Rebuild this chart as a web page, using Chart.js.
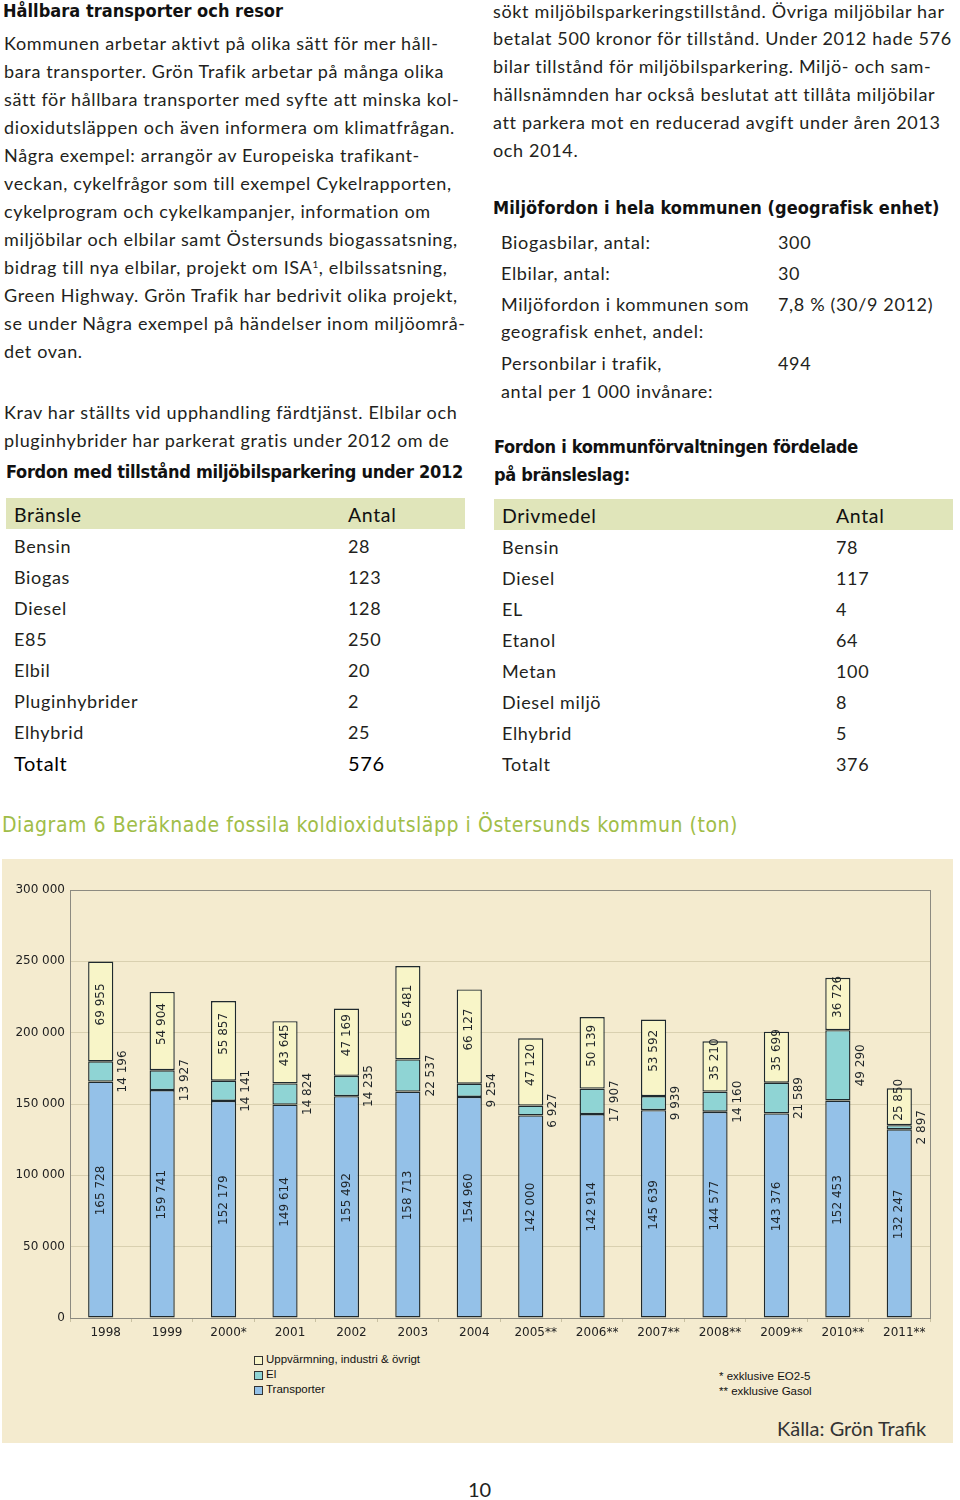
<!DOCTYPE html>
<html lang="sv">
<head>
<meta charset="utf-8">
<title>Hållbara transporter och resor</title>
<script src="https://cdn.jsdelivr.net/npm/chart.js@4.4.1/dist/chart.umd.min.js"></script>
<style>
html,body{margin:0;padding:0;background:#fff;}
body{width:960px;height:1500px;position:relative;overflow:hidden;color:#231f20;font-family:Lato,"Open Sans",sans-serif;}
.t{position:absolute;white-space:nowrap;line-height:1;}
.b{font-size:18px;}
.h{font-family:"DejaVu Sans Condensed","DejaVu Sans",sans-serif;font-weight:bold;font-size:18px;color:#111;}
.band{position:absolute;background:#e0e5ba;}
.th{font-size:19.5px;color:#111;}
.td{font-size:18px;}
.lg{position:absolute;font-family:"Liberation Sans",Arial,sans-serif;font-size:11.5px;color:#111;white-space:nowrap;line-height:1;}
.sq{position:absolute;width:7px;height:7px;border:1px solid #333;}
#chartbox{position:absolute;left:2px;top:859px;width:951px;height:584px;background:#f4ebcf;}
#c{position:absolute;left:2px;top:861px;}
sup{font-size:10px;vertical-align:6px;line-height:0;}
</style>
</head>
<body>
<!-- Left column -->
<div class="t h" data-w="280" style="left:3px;top:2px;">Hållbara transporter och resor</div>
<div class="t b" id="refL" style="left:4px;top:34px;">Kommunen arbetar aktivt på olika sätt för mer håll-</div>
<div class="t b" style="left:4px;top:62px;">bara transporter. Grön Trafik arbetar på många olika</div>
<div class="t b" style="left:4px;top:90px;">sätt för hållbara transporter med syfte att minska kol-</div>
<div class="t b" style="left:4px;top:118px;">dioxidutsläppen och även informera om klimatfrågan.</div>
<div class="t b" style="left:4px;top:146px;">Några exempel: arrangör av Europeiska trafikant-</div>
<div class="t b" style="left:4px;top:174px;">veckan, cykelfrågor som till exempel Cykelrapporten,</div>
<div class="t b" style="left:4px;top:202px;">cykelprogram och cykelkampanjer, information om</div>
<div class="t b" style="left:4px;top:230px;">miljöbilar och elbilar samt Östersunds biogassatsning,</div>
<div class="t b" style="left:4px;top:258px;">bidrag till nya elbilar, projekt om ISA<sup>1</sup>, elbilssatsning,</div>
<div class="t b" style="left:4px;top:286px;">Green Highway. Grön Trafik har bedrivit olika projekt,</div>
<div class="t b" style="left:4px;top:314px;">se under Några exempel på händelser inom miljöområ-</div>
<div class="t b" style="left:4px;top:342px;">det ovan.</div>
<div class="t b" style="left:4px;top:403px;">Krav har ställts vid upphandling färdtjänst. Elbilar och</div>
<div class="t b" style="left:4px;top:431px;">pluginhybrider har parkerat gratis under 2012 om de</div>
<div class="t h" data-w="457" style="left:6px;top:463px;">Fordon med tillstånd miljöbilsparkering under 2012</div>

<div class="band" style="left:6px;top:498px;width:459px;height:31px;"></div>
<div class="t th" style="left:14px;top:505px;">Bränsle</div>
<div class="t th" style="left:348px;top:505px;">Antal</div>
<div class="t td" style="left:14px;top:537px;">Bensin</div><div class="t td" style="left:348px;top:537px;">28</div>
<div class="t td" style="left:14px;top:568px;">Biogas</div><div class="t td" style="left:348px;top:568px;">123</div>
<div class="t td" style="left:14px;top:599px;">Diesel</div><div class="t td" style="left:348px;top:599px;">128</div>
<div class="t td" style="left:14px;top:630px;">E85</div><div class="t td" style="left:348px;top:630px;">250</div>
<div class="t td" style="left:14px;top:661px;">Elbil</div><div class="t td" style="left:348px;top:661px;">20</div>
<div class="t td" style="left:14px;top:692px;">Pluginhybrider</div><div class="t td" style="left:348px;top:692px;">2</div>
<div class="t td" style="left:14px;top:723px;">Elhybrid</div><div class="t td" style="left:348px;top:723px;">25</div>
<div class="t th" style="left:14px;top:753px;font-size:20px;color:#000;">Totalt</div><div class="t th" style="left:348px;top:753px;font-size:20px;color:#000;">576</div>

<!-- Right column -->
<div class="t b" id="refR" style="left:493px;top:2px;">sökt miljöbilsparkeringstillstånd. Övriga miljöbilar har</div>
<div class="t b" style="left:493px;top:29px;">betalat 500 kronor för tillstånd. Under 2012 hade 576</div>
<div class="t b" style="left:493px;top:57px;">bilar tillstånd för miljöbilsparkering. Miljö- och sam-</div>
<div class="t b" style="left:493px;top:85px;">hällsnämnden har också beslutat att tillåta miljöbilar</div>
<div class="t b" style="left:493px;top:113px;">att parkera mot en reducerad avgift under åren 2013</div>
<div class="t b" style="left:493px;top:141px;">och 2014.</div>
<div class="t h" data-w="446" style="left:493px;top:199px;">Miljöfordon i hela kommunen (geografisk enhet)</div>

<div class="t td" style="left:501px;top:233px;">Biogasbilar, antal:</div><div class="t td" style="left:778px;top:233px;">300</div>
<div class="t td" style="left:501px;top:264px;">Elbilar, antal:</div><div class="t td" style="left:778px;top:264px;">30</div>
<div class="t td" style="left:501px;top:295px;">Miljöfordon i kommunen som</div><div class="t td" style="left:778px;top:295px;">7,8 % (30/9 2012)</div>
<div class="t td" style="left:501px;top:322px;">geografisk enhet, andel:</div>
<div class="t td" style="left:501px;top:354px;">Personbilar i trafik,</div><div class="t td" style="left:778px;top:354px;">494</div>
<div class="t td" style="left:501px;top:382px;">antal per 1 000 invånare:</div>

<div class="t h" data-w="364" style="left:494px;top:438px;">Fordon i kommunförvaltningen fördelade</div>
<div class="t h" style="left:494px;top:466px;">på bränsleslag:</div>

<div class="band" style="left:494px;top:499px;width:459px;height:31px;"></div>
<div class="t th" style="left:502px;top:506px;">Drivmedel</div>
<div class="t th" style="left:836px;top:506px;">Antal</div>
<div class="t td" style="left:502px;top:538px;">Bensin</div><div class="t td" style="left:836px;top:538px;">78</div>
<div class="t td" style="left:502px;top:569px;">Diesel</div><div class="t td" style="left:836px;top:569px;">117</div>
<div class="t td" style="left:502px;top:600px;">EL</div><div class="t td" style="left:836px;top:600px;">4</div>
<div class="t td" style="left:502px;top:631px;">Etanol</div><div class="t td" style="left:836px;top:631px;">64</div>
<div class="t td" style="left:502px;top:662px;">Metan</div><div class="t td" style="left:836px;top:662px;">100</div>
<div class="t td" style="left:502px;top:693px;">Diesel miljö</div><div class="t td" style="left:836px;top:693px;">8</div>
<div class="t td" style="left:502px;top:724px;">Elhybrid</div><div class="t td" style="left:836px;top:724px;">5</div>
<div class="t td" style="left:502px;top:755px;">Totalt</div><div class="t td" style="left:836px;top:755px;">376</div>

<!-- Diagram -->
<div class="t" data-w="736" style="left:2px;top:815px;font-family:'DejaVu Sans Condensed','DejaVu Sans',sans-serif;font-size:21px;color:#a0bd48;">Diagram 6 Beräknade fossila koldioxidutsläpp i Östersunds kommun (ton)</div>
<div id="chartbox"></div>
<canvas id="c" width="951" height="484"></canvas>

<div class="sq" style="left:254px;top:1356px;background:#f8f5c8;"></div>
<div class="lg" style="left:266px;top:1354px;">Uppvärmning, industri &amp; övrigt</div>
<div class="sq" style="left:254px;top:1371px;background:#8fd4d4;"></div>
<div class="lg" style="left:266px;top:1369px;">El</div>
<div class="sq" style="left:254px;top:1386px;background:#94c1e8;"></div>
<div class="lg" style="left:266px;top:1384px;">Transporter</div>

<div class="lg" style="left:719px;top:1371px;">* exklusive EO2-5</div>
<div class="lg" style="left:719px;top:1386px;">** exklusive Gasol</div>

<div class="t" style="left:777px;top:1418px;font-size:20px;color:#333;">Källa: Grön Trafik</div>
<div class="t" style="left:468px;top:1479px;font-size:20px;color:#222;">10</div>

<script>
// ---- Chart data ----
const categories = ['1998','1999','2000*','2001','2002','2003','2004','2005**','2006**','2007**','2008**','2009**','2010**','2011**'];
const transporter = [165728,159741,152179,149614,155492,158713,154960,142000,142914,145639,144577,143376,152453,132247];
const el = [14196,13927,14141,14824,14235,22537,9254,6927,17907,9939,14160,21589,49290,2897];
const uppvarmning = [69955,54904,55857,43645,47169,65481,66127,47120,50139,53592,35210,35699,36726,25850];
const seriesNames = ['Transporter','El','Uppvärmning, industri & övrigt'];
const yTicks = [0,50000,100000,150000,200000,250000,300000];

function fmt(v){ return String(v).replace(/\B(?=(\d{3})+(?!\d))/g,' '); }

const boxPlugin = {
  id:'box',
  beforeDatasetsDraw(chart){
    const {ctx, chartArea:a} = chart;
    ctx.save();
    ctx.strokeStyle = '#8c8a80';
    ctx.lineWidth = 1;
    ctx.strokeRect(Math.round(a.left)+0.5, Math.round(a.top)+0.5, Math.round(a.right-a.left), Math.round(a.bottom-a.top));
    ctx.restore();
  }
};

const labelPlugin = {
  id:'valueLabels',
  afterDatasetsDraw(chart){
    const ctx = chart.ctx;
    ctx.save();
    ctx.font = '12px "DejaVu Sans", sans-serif';
    ctx.fillStyle = '#1e2428';
    ctx.textAlign = 'center';
    ctx.textBaseline = 'middle';
    chart.data.datasets.forEach((ds, di) => {
      const meta = chart.getDatasetMeta(di);
      meta.data.forEach((bar, i) => {
        const p = bar.getProps(['x','y','base','width'], true);
        let x = p.x, y = (p.y + p.base) / 2;
        if (di === 0) y -= 9;
        else if (di === 1) x = p.x + p.width / 2 + 10;
        else y -= 7;
        ctx.save();
        ctx.translate(x, y);
        ctx.rotate(-Math.PI / 2);
        ctx.fillText(fmt(ds.data[i]), 0, 0);
        ctx.restore();
      });
    });
    ctx.restore();
  }
};

function makeChart(){
  const common = {borderColor:'#1f2a2e', borderWidth:1.4, borderSkipped:false, barPercentage:0.41, categoryPercentage:1.0};
  new Chart(document.getElementById('c'), {
    type:'bar',
    data:{
      labels:categories,
      datasets:[
        Object.assign({label:seriesNames[0], data:transporter, backgroundColor:'#94c1e8'}, common),
        Object.assign({label:seriesNames[1], data:el, backgroundColor:'#8fd4d4'}, common),
        Object.assign({label:seriesNames[2], data:uppvarmning, backgroundColor:'#f8f5c8'}, common)
      ]
    },
    options:{
      responsive:false,
      devicePixelRatio:1,
      animation:false,
      layout:{padding:{left:0, top:29, right:23, bottom:0}},
      plugins:{legend:{display:false}, tooltip:{enabled:false}},
      scales:{
        x:{
          stacked:true,
          border:{display:false},
          grid:{drawOnChartArea:false, drawTicks:true, tickLength:4, color:'#c9c1a2', offset:true},
          ticks:{font:{family:'DejaVu Sans', size:12}, color:'#222', padding:4, labelOffset:5, maxRotation:0, autoSkip:false},
          afterFit(s){ s.height = 27; }
        },
        y:{
          stacked:true, min:0, max:300000,
          border:{display:false},
          grid:{color:'#d9d0b0', lineWidth:1, drawTicks:false},
          afterBuildTicks(s){ s.ticks = yTicks.map(v => ({value:v})); },
          ticks:{font:{family:'DejaVu Sans', size:12}, color:'#222', padding:5, callback:(v)=>fmt(v)},
          afterFit(s){ s.width = 68; }
        }
      }
    },
    plugins:[boxPlugin, labelPlugin]
  });
}

function fitText(){
  const refs = [[document.getElementById('refL'),436],[document.getElementById('refR'),450]];
  let ls = 0;
  refs.forEach(([e,w]) => { const n = e.textContent.length; ls += (w - e.getBoundingClientRect().width) / n; });
  ls /= refs.length;
  document.querySelectorAll('.b, .td, .th').forEach(e => e.style.letterSpacing = ls.toFixed(3)+'px');
  document.querySelectorAll('[data-w]').forEach(e => {
    const w = +e.getAttribute('data-w');
    const n = e.textContent.length;
    const d = (w - e.getBoundingClientRect().width) / n;
    e.style.letterSpacing = d.toFixed(3)+'px';
  });
  const hs = document.querySelectorAll('.h:not([data-w])');
  const ref = document.querySelector('.h[data-w="364"]');
  hs.forEach(e => e.style.letterSpacing = ref.style.letterSpacing);
}

(document.fonts && document.fonts.ready ? document.fonts.ready : Promise.resolve()).then(() => {
  fitText();
  makeChart();
});
</script>
</body>
</html>
